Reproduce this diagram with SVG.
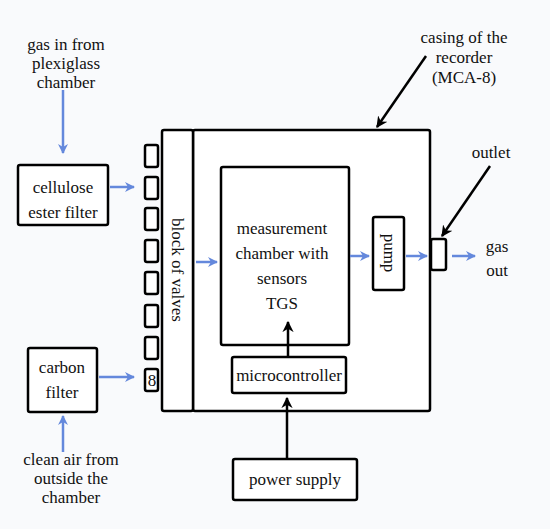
<svg xmlns="http://www.w3.org/2000/svg" width="550" height="529" viewBox="0 0 550 529">
<defs>
<marker id="ab" viewBox="0 0 10 10" refX="9" refY="5" markerWidth="4" markerHeight="4" orient="auto" markerUnits="strokeWidth"><path d="M0,0 L10,5 L0,10 L3,5 z" fill="#6488dc"/></marker>
<marker id="ak" viewBox="0 0 10 10" refX="9" refY="5" markerWidth="4.5" markerHeight="4.5" orient="auto" markerUnits="strokeWidth"><path d="M0,0 L10,5 L0,10 L3,5 z" fill="#000"/></marker>
</defs>
<style>
.w{fill:#fff;stroke:#000;stroke-width:2.5}
.t{font-size:17px;fill:#111;text-anchor:middle}
.bl{stroke:#6488dc;stroke-width:2.5;fill:none;marker-end:url(#ab)}
.bk{stroke:#000;stroke-width:2.5;fill:none;marker-end:url(#ak)}
</style>
<rect width="550" height="529" fill="#f9fafc"/>
<g id="casing"><rect class="w" x="193" y="130" width="237" height="281" rx="2"/></g>
<g id="block-of-valves">
<rect class="w" x="162" y="130" width="31" height="281" rx="2"/>
<text class="t" font-family="Liberation Serif, serif" style="font-family:'Liberation Serif',serif" transform="translate(177,270) rotate(90)" dy="5">block of valves</text>
</g>
<g id="valves">
<rect class="w" x="145" y="145" width="13" height="22" rx="2"/>
<rect class="w" x="145" y="177" width="13" height="22" rx="2"/>
<rect class="w" x="145" y="208" width="13" height="22" rx="2"/>
<rect class="w" x="145" y="240" width="13" height="22" rx="2"/>
<rect class="w" x="145" y="272" width="13" height="22" rx="2"/>
<rect class="w" x="145" y="305" width="13" height="22" rx="2"/>
<rect class="w" x="145" y="337" width="13" height="22" rx="2"/>
<rect class="w" x="145" y="369" width="13" height="22" rx="2"/>
<text class="t" font-family="Liberation Serif, serif" style="font-family:'Liberation Serif',serif" x="152" y="386">8</text>
</g>
<g id="gas-in-label"><text class="t" font-family="Liberation Serif, serif" style="font-family:'Liberation Serif',serif" x="66" y="50">gas in from<tspan x="66" dy="19">plexiglass</tspan><tspan x="66" dy="19">chamber</tspan></text></g>
<g id="cellulose-filter"><rect class="w" x="18" y="165" width="90" height="60" rx="2"/><text class="t" font-family="Liberation Serif, serif" style="font-family:'Liberation Serif',serif" x="63" y="193">cellulose<tspan x="63" dy="25">ester filter</tspan></text></g>
<g id="carbon-filter"><rect class="w" x="28" y="348" width="69" height="64" rx="2"/><text class="t" font-family="Liberation Serif, serif" style="font-family:'Liberation Serif',serif" x="62" y="373">carbon<tspan x="62" dy="25">filter</tspan></text></g>
<g id="clean-air-label"><text class="t" font-family="Liberation Serif, serif" style="font-family:'Liberation Serif',serif" x="71" y="465">clean air from<tspan x="71" dy="19">outside the</tspan><tspan x="71" dy="19">chamber</tspan></text></g>
<g id="measurement-chamber"><rect class="w" x="221" y="167" width="128" height="178" rx="2"/>
<text class="t" font-family="Liberation Serif, serif" style="font-family:'Liberation Serif',serif" x="282" y="234">measurement<tspan x="282" dy="25">chamber with</tspan><tspan x="282" dy="25">sensors</tspan><tspan x="282" dy="25">TGS</tspan></text></g>
<g id="pump"><rect class="w" x="373" y="217" width="31" height="73" rx="2"/><text class="t" font-family="Liberation Serif, serif" style="font-family:'Liberation Serif',serif" transform="translate(389,253) rotate(90)" dy="5">pump</text></g>
<g id="outlet"><rect class="w" x="431" y="239" width="15" height="31" rx="2"/></g>
<g id="gas-out-label"><text class="t" font-family="Liberation Serif, serif" style="font-family:'Liberation Serif',serif" x="497" y="252">gas<tspan x="497" dy="24">out</tspan></text></g>
<g id="microcontroller"><rect class="w" x="232" y="357" width="114" height="36" rx="2"/><text class="t" font-family="Liberation Serif, serif" style="font-family:'Liberation Serif',serif" x="289" y="381">microcontroller</text></g>
<g id="power-supply"><rect class="w" x="233" y="459" width="124" height="41" rx="2"/><text class="t" font-family="Liberation Serif, serif" style="font-family:'Liberation Serif',serif" x="295" y="485">power supply</text></g>
<g id="casing-label"><text class="t" font-family="Liberation Serif, serif" style="font-family:'Liberation Serif',serif" x="464" y="43">casing of the<tspan x="464" dy="20">recorder</tspan><tspan x="464" dy="20">(MCA-8)</tspan></text></g>
<g id="outlet-label"><text class="t" font-family="Liberation Serif, serif" style="font-family:'Liberation Serif',serif" x="491" y="158">outlet</text></g>
<g id="connectors">
<line class="bl" x1="63" y1="90" x2="63" y2="153"/>
<line class="bl" x1="110" y1="187" x2="134" y2="187"/>
<line class="bl" x1="99" y1="377" x2="134" y2="377"/>
<line class="bl" x1="63" y1="452" x2="63" y2="416"/>
<line class="bl" x1="196" y1="262" x2="217" y2="262"/>
<line class="bl" x1="350" y1="256" x2="369" y2="256"/>
<line class="bl" x1="406" y1="256" x2="427" y2="256"/>
<line class="bl" x1="452" y1="256" x2="475" y2="256"/>
<line class="bk" x1="288" y1="356" x2="288" y2="322"/>
<line class="bk" x1="287" y1="458" x2="287" y2="398"/>
<line class="bk" x1="426" y1="56" x2="377" y2="127"/>
<line class="bk" x1="490" y1="166" x2="442" y2="236"/>
</g>
</svg>
